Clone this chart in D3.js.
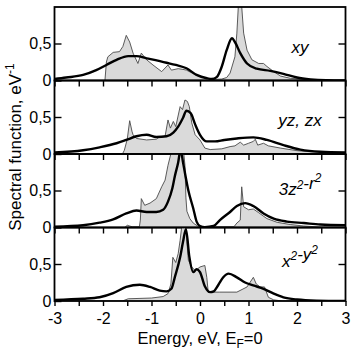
<!DOCTYPE html>
<html><head><meta charset="utf-8">
<script src="https://cdn.jsdelivr.net/npm/d3@7"></script>
<style>
body{margin:0;background:#fff;}
svg{display:block;font-family:"Liberation Sans",Arial,Helvetica,sans-serif;}
</style>
</head><body>
<svg id="chart" width="353" height="351"></svg>
<script>
// ---------------- data ----------------
const panelNames = ["xy", "yz, zx", "3z^2-r^2", "x^2-y^2"];
const xTickValues = [-3,-2.5,-2,-1.5,-1,-0.5,0,0.5,1,1.5,2,2.5,3];
const xTickLabels = ["-3","","-2","","-1","","0","","1","","2","","3"];
const yTickValues = [0, 0.5];
const yTickLabels = ["0", "0,5"];

// shaded (thin line) spectral functions: [energy, value]
const xyShaded = [[-3,0],[-1.96,0],[-1.93,0.25],[-1.90,0.32],[-1.79,0.38],[-1.66,0.39],[-1.59,0.46],[-1.52,0.61],[-1.45,0.52],[-1.38,0.37],[-1.28,0.23],[-1.21,0.37],[-1.10,0.28],[-0.97,0.21],[-0.79,0.12],[-0.66,0.21],[-0.59,0.14],[-0.45,0.16],[-0.35,0.15],[-0.28,0.14],[-0.07,0.07],[0.14,0.03],[0.28,0.015],[0.45,0.02],[0.55,0.04],[0.62,0.1],[0.72,0.32],[0.76,0.64],[0.79,1.0],[0.83,1.15],[0.86,1.0],[0.90,0.64],[0.97,0.41],[1.07,0.28],[1.21,0.23],[1.31,0.23],[1.38,0.19],[1.52,0.12],[1.66,0.06],[1.86,0.03],[2.14,0.015],[2.5,0],[3,0]];
const yzShaded = [[-3,0],[-1.6,0],[-1.56,0.05],[-1.50,0.2],[-1.45,0.45],[-1.40,0.3],[-1.38,0.26],[-1.31,0.21],[-1.1,0.19],[-0.9,0.2],[-0.86,0.22],[-0.72,0.24],[-0.66,0.46],[-0.61,0.35],[-0.55,0.44],[-0.50,0.37],[-0.41,0.64],[-0.36,0.6],[-0.31,0.73],[-0.26,0.71],[-0.22,0.64],[-0.17,0.42],[-0.10,0.26],[0,0.19],[0.10,0.08],[0.21,0.06],[0.45,0.07],[0.62,0.10],[0.72,0.11],[0.83,0.16],[0.90,0.12],[1.0,0.145],[1.10,0.17],[1.14,0.20],[1.19,0.12],[1.31,0.145],[1.41,0.11],[1.66,0.08],[2.0,0.045],[2.28,0.03],[2.6,0.02],[3,0.01]];
const z2Shaded = [[-3,0],[-1.55,0],[-1.50,0.03],[-1.45,0.02],[-1.40,0.01],[-1.25,0.01],[-1.23,0.1],[-1.21,0.39],[-1.14,0.30],[-1.03,0.33],[-0.90,0.39],[-0.79,0.55],[-0.72,0.64],[-0.66,0.84],[-0.58,1.05],[-0.45,1.2],[-0.35,1.1],[-0.31,0.84],[-0.29,0.4],[-0.27,0.22],[-0.21,0.12],[-0.14,0.06],[-0.05,0.02],[0,0.01],[0.7,0.01],[0.76,0.06],[0.83,0.1],[0.86,0.55],[0.90,0.28],[1.0,0.24],[1.10,0.25],[1.21,0.2],[1.38,0.12],[1.59,0.07],[1.86,0.04],[2.14,0.02],[2.5,0.005],[3,0]];
const x2Shaded = [[-3,0],[-1.6,0],[-1.48,0.03],[-1.0,0.04],[-0.76,0.06],[-0.66,0.10],[-0.60,0.23],[-0.56,0.59],[-0.50,0.52],[-0.45,0.64],[-0.41,0.82],[-0.36,1.1],[-0.30,1.15],[-0.27,0.8],[-0.24,0.55],[-0.17,0.46],[-0.10,0.41],[0,0.46],[0.10,0.48],[0.14,0.32],[0.17,0.12],[0.41,0.12],[0.76,0.12],[0.97,0.19],[1.10,0.32],[1.16,0.23],[1.24,0.19],[1.33,0.19],[1.41,0.05],[1.52,0.015],[1.7,0],[3,0]];

// thick-line spectral functions: [energy, value]
const xyLine = [[-3,0.02],[-2.76,0.04],[-2.41,0.075],[-2.14,0.14],[-1.93,0.21],[-1.72,0.28],[-1.48,0.33],[-1.31,0.33],[-1.10,0.30],[-0.69,0.24],[-0.5,0.21],[-0.28,0.165],[-0.07,0.075],[0.14,0.03],[0.24,0.02],[0.35,0.05],[0.45,0.19],[0.55,0.41],[0.66,0.57],[0.72,0.52],[0.83,0.37],[0.97,0.23],[1.17,0.16],[1.45,0.13],[1.72,0.09],[2.0,0.04],[2.28,0.015],[2.6,0.003],[3,0]];
const yzLine = [[-3,0.02],[-2.41,0.05],[-2.07,0.09],[-1.72,0.145],[-1.52,0.19],[-1.31,0.24],[-1.10,0.26],[-0.90,0.23],[-0.69,0.24],[-0.55,0.29],[-0.45,0.37],[-0.35,0.49],[-0.28,0.585],[-0.19,0.55],[-0.10,0.40],[0,0.26],[0.14,0.17],[0.31,0.17],[0.5,0.19],[0.76,0.21],[1.10,0.225],[1.38,0.19],[1.72,0.12],[2.07,0.06],[2.48,0.03],[3,0.02]];
const z2Line = [[-3,0.01],[-2.41,0.03],[-2.07,0.065],[-1.79,0.11],[-1.52,0.19],[-1.31,0.23],[-1.10,0.21],[-0.90,0.21],[-0.76,0.24],[-0.66,0.35],[-0.57,0.53],[-0.52,0.69],[-0.45,0.88],[-0.40,1.05],[-0.35,0.88],[-0.30,0.7],[-0.24,0.5],[-0.14,0.26],[-0.07,0.08],[0,0.02],[0.1,0.005],[0.28,0.02],[0.41,0.1],[0.62,0.21],[0.76,0.29],[0.93,0.33],[1.10,0.29],[1.31,0.19],[1.52,0.12],[1.79,0.08],[2.14,0.06],[2.48,0.04],[3,0.03]];
const x2Line = [[-3,0.015],[-2.41,0.03],[-2.07,0.05],[-1.79,0.105],[-1.52,0.19],[-1.24,0.22],[-1.03,0.19],[-0.83,0.14],[-0.69,0.13],[-0.59,0.165],[-0.52,0.32],[-0.41,0.59],[-0.35,0.8],[-0.29,0.97],[-0.22,0.6],[-0.14,0.39],[-0.07,0.43],[0,0.39],[0.1,0.2],[0.21,0.12],[0.28,0.13],[0.38,0.22],[0.48,0.32],[0.59,0.37],[0.76,0.32],[0.93,0.25],[1.10,0.21],[1.31,0.165],[1.52,0.10],[1.72,0.05],[2.0,0.02],[2.4,0.005],[3,0]];

const shadedSeries = [xyShaded, yzShaded, z2Shaded, x2Shaded];
const lineSeries = [xyLine, yzLine, z2Line, x2Line];

// ---------------- layout ----------------
const L = 54.5, R = 345.5, T = 7, PH = 73.5;
const labelDy = [46, 45.5, 41, 39];
const svg = d3.select("#chart");
const x = d3.scaleLinear().domain([-3, 3]).range([L, R]);

function richText(sel, str, fs) {
  const parts = str.split(/(\^.)/).filter(s => s.length);
  parts.forEach(p => {
    if (p[0] === "^") {
      sel.append("tspan").attr("dy", -fs*0.38).attr("font-size", fs*0.7).text(p[1]);
      sel.append("tspan").attr("dy", fs*0.38).attr("font-size", fs).text("");
    } else sel.append("tspan").text(p);
  });
}

const defs = svg.append("defs");
panelNames.forEach((name, i) => {
  const top = T + i*PH, bot = top + PH;
  const y = d3.scaleLinear().domain([0, 1]).range([bot, bot - 74]);
  defs.append("clipPath").attr("id", "clip"+i)
    .append("rect").attr("x", L).attr("y", top).attr("width", R-L).attr("height", PH);
  const g = svg.append("g").attr("clip-path", `url(#clip${i})`);
  g.append("path").datum(shadedSeries[i])
    .attr("d", d3.area().x(d => x(d[0])).y0(y(0)).y1(d => y(d[1])))
    .attr("fill", "#dadada");
  g.append("path").datum(shadedSeries[i])
    .attr("d", d3.line().x(d => x(d[0])).y(d => y(d[1])))
    .attr("fill", "none").attr("stroke", "#4a4a4a").attr("stroke-width", 0.9);
  g.append("path").datum(lineSeries[i])
    .attr("d", d3.line().curve(d3.curveMonotoneX).x(d => x(d[0])).y(d => y(d[1])))
    .attr("fill", "none").attr("stroke", "#000").attr("stroke-width", 2.4)
    .attr("stroke-linejoin", "round");

  const ya = svg.append("g").attr("transform", `translate(${L},0)`)
    .call(d3.axisLeft(y).tickValues(yTickValues).tickSizeInner(-7).tickSizeOuter(0)
      .tickPadding(3).tickFormat((d, k) => yTickLabels[k]));
  ya.select(".domain").remove();
  ya.selectAll("line").attr("stroke-width", 1.4);
  ya.selectAll("text").attr("font-size", 16).attr("font-family", "Liberation Sans, Arial, sans-serif").attr("fill", "#000");
  const yb = svg.append("g").attr("transform", `translate(${R},0)`)
    .call(d3.axisRight(y).tickValues([0.5]).tickSizeInner(-7).tickSizeOuter(0).tickFormat(""));
  yb.select(".domain").remove();
  yb.selectAll("line").attr("stroke-width", 1.4);

  const last = i === panelNames.length - 1;
  const xa = svg.append("g").attr("transform", `translate(0,${bot})`)
    .call(d3.axisBottom(x).tickValues(xTickValues).tickSizeInner(last ? 5 : 6).tickSizeOuter(0)
      .tickPadding(7).tickFormat((d, k) => last ? xTickLabels[k] : ""));
  xa.select(".domain").remove();
  xa.selectAll("line").attr("stroke-width", 1.4);
  xa.selectAll("text").attr("font-size", 16).attr("font-family", "Liberation Sans, Arial, sans-serif").attr("fill", "#000");

  svg.append("rect").attr("x", L).attr("y", top).attr("width", R-L).attr("height", PH)
    .attr("fill", "none").attr("stroke", "#000").attr("stroke-width", 1.8);

  const t = svg.append("text").attr("x", 300).attr("y", top + labelDy[i])
    .attr("text-anchor", "middle").attr("font-size", 17).attr("font-style", "italic");
  richText(t, name, 17);
});

const xt = svg.append("text").attr("x", 200).attr("y", 344).attr("text-anchor", "middle").attr("font-size", 16.5);
xt.append("tspan").text("Energy, eV, E");
xt.append("tspan").attr("dy", 4).attr("font-size", 12).text("F");
xt.append("tspan").attr("dy", -4).text("=0");

const yt = svg.append("text").attr("transform", "translate(21,147) rotate(-90)")
  .attr("text-anchor", "middle").attr("font-size", 17);
yt.append("tspan").text("Spectral function, eV");
yt.append("tspan").attr("dy", -7).attr("font-size", 12).text("-1");
</script>
</body></html>
